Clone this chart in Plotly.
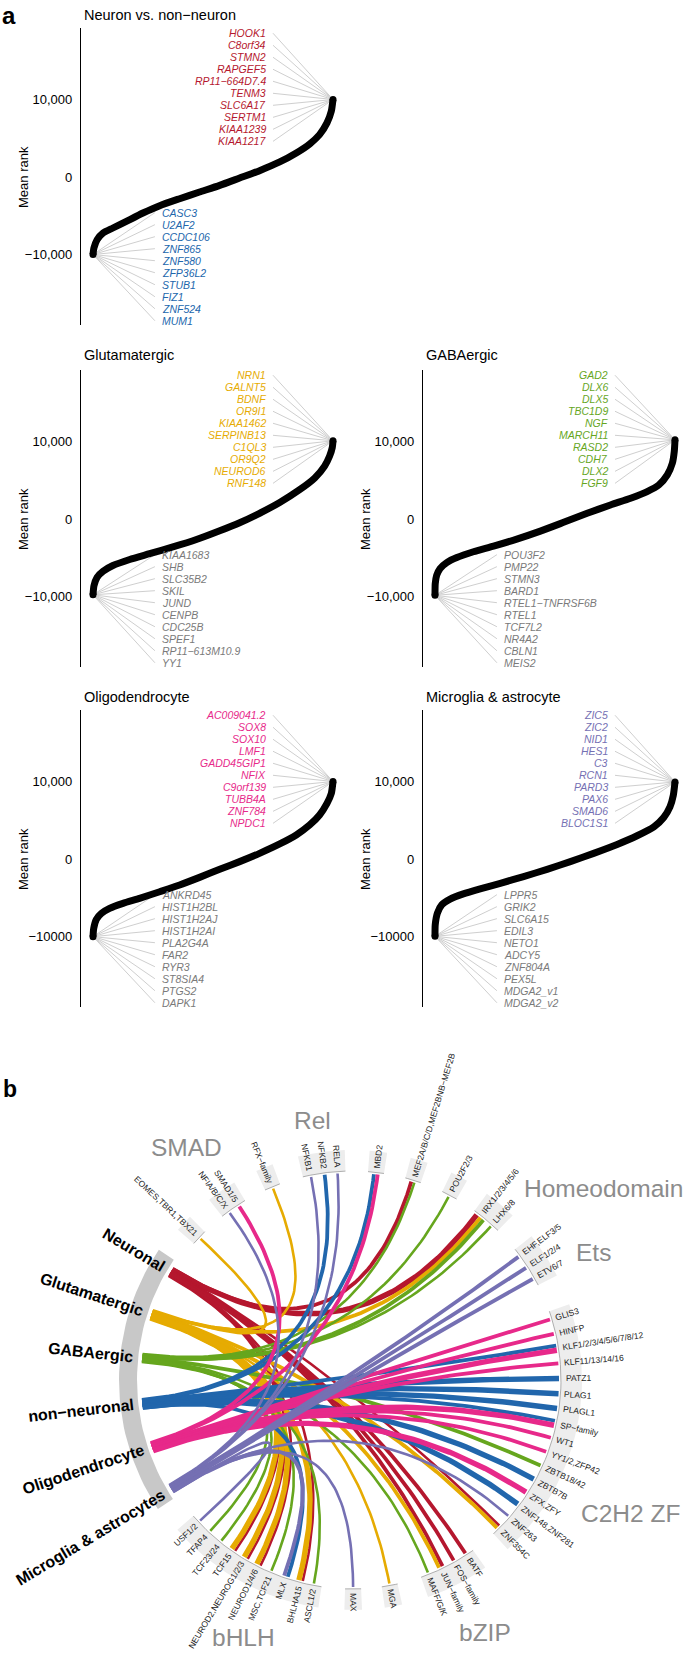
import math
import plotly.graph_objects as go

FONT = "Liberation Sans, Arial, Helvetica, sans-serif"
RED, ORANGE, GREEN = "#B5172E", "#E6AB02", "#66A61E"
BLUE, PINK, PURPLE = "#2166AC", "#E7298A", "#7570B3"
GREYTXT = "#7A7A7A"

# ---------------- Panel a data ----------------
titles = ["Neuron vs. non\u2212neuron", "Glutamatergic", "GABAergic",
          "Oligodendrocyte", "Microglia & astrocyte"]

# sorted mean-rank curves (x = rank fraction, y = mean rank)
neuron_x = [0, 0.004, 0.017, 0.042, 0.083, 0.139, 0.208, 0.278, 0.361, 0.444, 0.528, 0.611,
            0.694, 0.778, 0.847, 0.903, 0.944, 0.975, 0.993, 1.0]
neuron_y = [-10000, -9160, -8090, -7230, -6580, -5720, -4650, -3700, -2800, -1940, -1080, -130,
            820, 1940, 3100, 4270, 5470, 6980, 8490, 10000]
glut_x = [0, 0.004, 0.017, 0.042, 0.083, 0.153, 0.236, 0.333, 0.431, 0.528, 0.611, 0.694,
          0.778, 0.861, 0.924, 0.965, 0.986, 0.997, 1.0]
glut_y = [-9780, -8610, -7520, -6740, -6000, -5220, -4480, -3610, -2650, -1520, -480, 740,
          2130, 3780, 5300, 6830, 8130, 9220, 10090]
gaba_x = [0, 0.001, 0.007, 0.021, 0.049, 0.091, 0.160, 0.244, 0.341, 0.439, 0.536, 0.634,
          0.731, 0.815, 0.884, 0.933, 0.968, 0.989, 0.997, 1.0]
gaba_y = [-9850, -8340, -7260, -6390, -5620, -4970, -4230, -3500, -2590, -1560, -430, 730,
          1810, 2680, 3540, 4410, 5700, 7210, 8730, 10220]
oligo_x = [0, 0.003, 0.014, 0.035, 0.069, 0.125, 0.194, 0.278, 0.361, 0.444, 0.528, 0.611,
           0.694, 0.778, 0.847, 0.903, 0.944, 0.975, 0.993, 1.0]
oligo_y = [-10020, -8950, -7780, -7010, -6370, -5720, -5080, -4220, -3350, -2370, -1330, -340,
           730, 1940, 3100, 4390, 5680, 7180, 8470, 10000]
micro_x = [0, 0.001, 0.010, 0.028, 0.063, 0.118, 0.188, 0.272, 0.369, 0.467, 0.564, 0.661,
           0.759, 0.842, 0.912, 0.953, 0.979, 0.993, 1.0]
micro_y = [-9980, -8480, -6980, -5910, -5180, -4500, -3850, -3130, -2270, -1330, -340, 730,
           1880, 3000, 4150, 5350, 6720, 8220, 9940]
curves_x = [neuron_x, glut_x, gaba_x, oligo_x, micro_x]
curves_y = [neuron_y, glut_y, gaba_y, oligo_y, micro_y]

top_genes = [
    ["HOOK1", "C8orf34", "STMN2", "RAPGEF5", "RP11\u2212664D7.4", "TENM3", "SLC6A17", "SERTM1", "KIAA1239", "KIAA1217"],
    ["NRN1", "GALNT5", "BDNF", "OR9I1", "KIAA1462", "SERPINB13", "C1QL3", "OR9Q2", "NEUROD6", "RNF148"],
    ["GAD2", "DLX6", "DLX5", "TBC1D9", "NGF", "MARCH11", "RASD2", "CDH7", "DLX2", "FGF9"],
    ["AC009041.2", "SOX8", "SOX10", "LMF1", "GADD45GIP1", "NFIX", "C9orf139", "TUBB4A", "ZNF784", "NPDC1"],
    ["ZIC5", "ZIC2", "NID1", "HES1", "C3", "RCN1", "PARD3", "PAX6", "SMAD6", "BLOC1S1"],
]
bottom_genes = [
    ["CASC3", "U2AF2", "CCDC106", "ZNF865", "ZNF580", "ZFP36L2", "STUB1", "FIZ1", "ZNF524", "MUM1"],
    ["KIAA1683", "SHB", "SLC35B2", "SKIL", "JUND", "CENPB", "CDC25B", "SPEF1", "RP11\u2212613M10.9", "YY1"],
    ["POU3F2", "PMP22", "STMN3", "BARD1", "RTEL1\u2212TNFRSF6B", "RTEL1", "TCF7L2", "NR4A2", "CBLN1", "MEIS2"],
    ["ANKRD45", "HIST1H2BL", "HIST1H2AJ", "HIST1H2AI", "PLA2G4A", "FAR2", "RYR3", "ST8SIA4", "PTGS2", "DAPK1"],
    ["LPPR5", "GRIK2", "SLC6A15", "EDIL3", "NETO1", "ADCY5", "ZNF804A", "PEX5L", "MDGA2_v1", "MDGA2_v2"],
]
top_colors = [RED, ORANGE, GREEN, PINK, PURPLE]
bottom_colors = [BLUE, GREYTXT, GREYTXT, GREYTXT, GREYTXT]
tick_vals = [10000, 0, -10000]
tick_texts = [["10,000", "0", "\u221210,000"]] * 3 + [["10,000", "0", "\u221210000"]] * 2

# ---------------- Panel b data ----------------
sources = ["Neuronal", "Glutamatergic", "GABAergic", "non\u2212neuronal",
           "Oligodendrocyte", "Microglia & astrocytes"]
source_angle = [149.3, 161.8, 174.0, 186.5, 198.5, 211.0]
source_color = [RED, ORANGE, GREEN, BLUE, PINK, PURPLE]

targets = ["EOMES,TBR1,TBX21", "NFIA/B/C/X", "SMAD1/5", "RFX\u2212family", "NFKB1", "NFKB2", "RELA",
           "MBD2", "MEF2A/B/C/D,MEF2BNB\u2212MEF2B", "POU2F2/3", "IRX1/2/3/4/5/6", "LHX6/8",
           "EHF,ELF3/5", "ELF1/2/4", "ETV6/7", "GLIS3", "HINFP", "KLF1/2/3/4/5/6/7/8/12",
           "KLF11/13/14/16", "PATZ1", "PLAG1", "PLAGL1", "SP\u2212family", "WT1", "YY1/2,ZFP42",
           "ZBTB18/42", "ZBTB7B", "ZFX,ZFY", "ZNF148,ZNF281", "ZNF263", "ZNF354C", "BATF",
           "FOS\u2212family", "JUN\u2212family", "MAFF/G/K", "MGA", "MAX", "USF1/2", "TFAP4",
           "TCF23/24", "TCF15", "NEUROD2,NEUROG1/2/3", "NEUROD1/4/6", "MSC,TCF21", "MLX",
           "BHLHA15", "ASCL1/2"]
target_angle = [137.0, 126.2, 123.0, 112.4, 101.4, 97.6, 94.0, 83.4, 73.0, 62.2, 51.9, 47.9,
                36.5, 32.8, 29.2, 17.0, 12.9, 8.8, 4.6, 0.4, -3.8, -7.9, -12.1, -16.2, -20.3,
                -24.4, -28.6, -32.8, -36.8, -41.0, -45.2, -56.8, -60.6, -64.6, -68.5, -79.6,
                -89.7, 222.8, 226.8, 230.9, 234.9, 239.0, 243.0, 247.1, 251.4, 255.5, 259.4]
target_group = (["T-box", "SMAD", "SMAD", "RFX", "Rel", "Rel", "Rel", "MBD", "MEF2", "POU",
                 "Homeodomain", "Homeodomain", "Ets", "Ets", "Ets"] + ["C2H2 ZF"] * 16 +
                ["bZIP"] * 4 + ["MGA", "MAX"] + ["bHLH"] * 10)
family_labels = ["SMAD", "Rel", "Homeodomain", "Ets", "C2H2 ZF", "bHLH", "bZIP"]
family_label_xy = [(-166, 233), (-40, 260), (251, 192), (241, 128), (278, -133), (-109, -257), (133, -252)]

# links: (source index, target, score)
links = [
    (1, "EOMES,TBR1,TBX21", 1), (5, "NFIA/B/C/X", 1), (4, "SMAD1/5", 2), (1, "RFX\u2212family", 1),
    (5, "NFKB1", 1), (3, "NFKB2", 2), (5, "RELA", 1), (3, "MBD2", 2), (4, "MBD2", 2),
    (0, "MEF2A/B/C/D,MEF2BNB\u2212MEF2B", 2), (2, "MEF2A/B/C/D,MEF2BNB\u2212MEF2B", 1),
    (2, "POU2F2/3", 1), (0, "IRX1/2/3/4/5/6", 3), (1, "IRX1/2/3/4/5/6", 2), (2, "IRX1/2/3/4/5/6", 2),
    (2, "LHX6/8", 1), (5, "EHF,ELF3/5", 2), (5, "ELF1/2/4", 2), (5, "ETV6/7", 2),
    (4, "GLIS3", 2), (4, "HINFP", 2), (3, "KLF1/2/3/4/5/6/7/8/12", 2), (4, "KLF1/2/3/4/5/6/7/8/12", 3),
    (4, "KLF11/13/14/16", 2), (3, "PATZ1", 3), (3, "PLAG1", 3), (3, "PLAGL1", 3),
    (3, "SP\u2212family", 2), (4, "SP\u2212family", 3), (4, "WT1", 2), (4, "YY1/2,ZFP42", 2),
    (2, "ZBTB18/42", 2), (3, "ZBTB7B", 3), (4, "ZFX,ZFY", 3), (3, "ZNF148,ZNF281", 3),
    (5, "ZNF263", 1), (1, "ZNF354C", 2), (0, "ZNF354C", 1), (0, "BATF", 2), (0, "FOS\u2212family", 2),
    (1, "JUN\u2212family", 2), (0, "JUN\u2212family", 2), (2, "MAFF/G/K", 1), (1, "MGA", 1),
    (5, "MAX", 1), (5, "USF1/2", 1), (2, "TFAP4", 1), (2, "TCF23/24", 1),
    (1, "TCF15", 3), (0, "TCF15", 1), (1, "NEUROD2,NEUROG1/2/3", 3), (0, "NEUROD2,NEUROG1/2/3", 1),
    (1, "NEUROD1/4/6", 3), (0, "NEUROD1/4/6", 1), (2, "MSC,TCF21", 1),
    (5, "MLX", 2), (3, "MLX", 2), (1, "BHLHA15", 3), (0, "BHLHA15", 1), (2, "ASCL1/2", 1),
]

# ---------------- helpers ----------------
W, H = 685, 1653
REG = {' ': 278, ',': 278, '.': 278, '/': 278, '-': 333, '\u2212': 584, '&': 667, '_': 556,
       'A': 667, 'B': 667, 'C': 722, 'D': 722, 'E': 667, 'F': 611, 'G': 778, 'H': 722, 'I': 278,
       'J': 500, 'K': 667, 'L': 556, 'M': 833, 'N': 722, 'O': 778, 'P': 667, 'Q': 778, 'R': 722,
       'S': 667, 'T': 611, 'U': 722, 'V': 667, 'W': 944, 'X': 667, 'Y': 667, 'Z': 611,
       'a': 556, 'b': 556, 'c': 500, 'd': 556, 'e': 556, 'f': 278, 'g': 556, 'h': 556, 'i': 222,
       'j': 222, 'k': 500, 'l': 222, 'm': 833, 'n': 556, 'o': 556, 'p': 556, 'q': 556, 'r': 333,
       's': 500, 't': 278, 'u': 556, 'v': 500, 'w': 722, 'x': 500, 'y': 500, 'z': 500}
BOLD = dict(REG)
BOLD.update({'A': 722, 'B': 722, '&': 722, 'a': 556, 'b': 611, 'c': 556, 'd': 611, 'e': 556,
             'f': 333, 'g': 611, 'h': 611, 'i': 278, 'j': 278, 'k': 556, 'l': 278, 'm': 889,
             'n': 611, 'o': 611, 'p': 611, 'q': 611, 'r': 389, 's': 556, 't': 333, 'u': 611,
             'v': 556, 'w': 778, 'x': 556, 'y': 556})


def text_w(s, size, bold=False):
    tab = BOLD if bold else REG
    return sum(tab.get(ch, 556) for ch in s) * size / 1000.0


def pol(r, a):
    t = math.radians(a)
    return r * math.cos(t), r * math.sin(t)


def xd(px):
    return px / W


def yd(px):
    return 1 - px / H


fig = go.Figure()
annotations = []
layout = dict(width=W, height=H, margin=dict(l=0, r=0, t=0, b=0), paper_bgcolor="white",
              plot_bgcolor="rgba(0,0,0,0)", showlegend=False,
              font=dict(family=FONT, color="black"))

# ---------------- Panel a ----------------
axis_x_px = [81, 81, 423, 81, 423]
zero_px = [177, 519, 519, 859, 859]
title_y_px = [15, 355, 355, 697, 697]
YR = [-19050, 19200]
PPU = 77.5 / 10000.0
XR = [-12 / 240.0, 1 + 8 / 240.0]
TOP_X, TOP_LINE_X = 0.729, 0.75
BOT_X, BOT_LINE_X = 0.279, 0.258
top_label_y = [18550 - 1550 * i for i in range(10)]
bot_label_y = [-4600 - 1550 * i for i in range(10)]

for i in range(5):
    n = "" if i == 0 else str(i + 1)
    A = axis_x_px[i]
    top_px = zero_px[i] - YR[1] * PPU
    bot_px = zero_px[i] - YR[0] * PPU
    layout["xaxis" + n] = dict(domain=[xd(A), xd(A + 260)], range=XR, visible=False,
                               anchor="y" + n, fixedrange=True)
    layout["yaxis" + n] = dict(domain=[yd(bot_px), yd(top_px)], range=YR, anchor="x" + n,
                               showline=True, linecolor="black", linewidth=1.4, showgrid=False,
                               zeroline=False, ticks="outside", ticklen=5,
                               tickcolor="rgba(0,0,0,0)", tickvals=tick_vals,
                               ticktext=tick_texts[i], tickfont=dict(size=13, family=FONT),
                               fixedrange=True)
    xa, ya = "x" + n, "y" + n
    cx, cy = curves_x[i], curves_y[i]
    # connector lines
    lx, ly = [], []
    for yv in top_label_y:
        lx += [TOP_LINE_X, cx[-1], None]
        ly += [yv, cy[-1], None]
    for yv in bot_label_y:
        lx += [BOT_LINE_X, cx[0], None]
        ly += [yv, cy[0], None]
    fig.add_trace(go.Scatter(x=lx, y=ly, mode="lines", line=dict(color="#CFCFCF", width=1),
                             xaxis=xa, yaxis=ya, hoverinfo="skip"))
    fig.add_trace(go.Scatter(x=cx, y=cy, mode="lines",
                             line=dict(color="black", width=7, shape="spline", smoothing=0.6),
                             xaxis=xa, yaxis=ya, hoverinfo="skip"))
    fig.add_trace(go.Scatter(x=[cx[0], cx[-1]], y=[cy[0], cy[-1]], mode="markers",
                             marker=dict(color="black", size=7), xaxis=xa, yaxis=ya,
                             hoverinfo="skip"))
    for g, yv in zip(top_genes[i], top_label_y):
        annotations.append(dict(x=TOP_X, y=yv, xref=xa, yref=ya, text="<i>%s</i>" % g,
                                showarrow=False, xanchor="right", yanchor="middle",
                                font=dict(size=10.5, color=top_colors[i], family=FONT)))
    for g, yv in zip(bottom_genes[i], bot_label_y):
        annotations.append(dict(x=BOT_X, y=yv, xref=xa, yref=ya, text="<i>%s</i>" % g,
                                showarrow=False, xanchor="left", yanchor="middle",
                                font=dict(size=10.5, color=bottom_colors[i], family=FONT)))
    annotations.append(dict(x=xd(A + 1), y=yd(title_y_px[i]), xref="paper", yref="paper",
                            text=titles[i], showarrow=False, xanchor="left", yanchor="middle",
                            font=dict(size=14.5, family=FONT, color="black")))
    annotations.append(dict(x=xd(A - 58), y=yd(zero_px[i]), xref="paper", yref="paper",
                            text="Mean rank", showarrow=False, textangle=-90,
                            xanchor="center", yanchor="middle",
                            font=dict(size=13, family=FONT, color="black")))

annotations.append(dict(x=0, y=1, xref="paper", yref="paper", text="<b>a</b>",
                        showarrow=False, xanchor="left", yanchor="top",
                        font=dict(size=24, family=FONT, color="black")))
annotations.append(dict(x=xd(1), y=yd(1089), xref="paper", yref="paper", text="<b>b</b>",
                        showarrow=False, xanchor="left", yanchor="middle",
                        font=dict(size=23, family=FONT, color="black")))

# ---------------- Panel b ----------------
CX, CY = 352, 1380
layout["xaxis6"] = dict(domain=[0, 1], range=[-CX, W - CX], visible=False, anchor="y6",
                        fixedrange=True)
layout["yaxis6"] = dict(domain=[0, 1], range=[-(H - CY), CY], visible=False, anchor="x6",
                        fixedrange=True)


def add_poly(xs, ys, color, line_color=None, width=0):
    fig.add_trace(go.Scatter(x=xs, y=ys, mode="lines", fill="toself", fillcolor=color,
                             line=dict(color=line_color or color, width=width),
                             xaxis="x6", yaxis="y6", hoverinfo="skip"))


def sector(r0, r1, a0, a1, n=40):
    xs, ys = [], []
    for k in range(n + 1):
        x, y = pol(r1, a0 + (a1 - a0) * k / n)
        xs.append(x); ys.append(y)
    for k in range(n, -1, -1):
        x, y = pol(r0, a0 + (a1 - a0) * k / n)
        xs.append(x); ys.append(y)
    xs.append(xs[0]); ys.append(ys[0])
    return xs, ys


# target group boxes
tangle = dict(zip(targets, target_angle))
groups_order = []
for g in target_group:
    if g not in groups_order:
        groups_order.append(g)
for g in groups_order:
    angs = [a for a, gg in zip(target_angle, target_group) if gg == g]
    a0, a1 = min(angs) - 2.2, max(angs) + 2.2
    xs, ys = sector(209, 230, a0, a1)
    add_poly(xs, ys, "#EDEDED")
    ax_, ay_ = [], []
    for k in range(41):
        x, y = pol(209, a0 + (a1 - a0) * k / 40)
        ax_.append(x); ay_.append(y)
    fig.add_trace(go.Scatter(x=ax_, y=ay_, mode="lines", line=dict(color="#9A9A9A", width=0.8),
                             xaxis="x6", yaxis="y6", hoverinfo="skip"))

# source band
xs, ys = sector(215, 233, 146.0, 213.6)
add_poly(xs, ys, "#C8C8C8")

WIDTH = {1: 2.6, 2: 3.8, 3: 5.4}

# source-side offsets
src_off = {}
for s in range(len(sources)):
    ls = [k for k, l in enumerate(links) if l[0] == s]
    ls.sort(key=lambda k: (source_angle[s] - tangle[links[k][1]]) % 360)
    nL = len(ls)
    for j, k in enumerate(ls):
        px = (j - (nL - 1) / 2.0) * 0.9
        src_off[k] = math.degrees(px / 211.0)

# target-side offsets
tgt_off = {}
for t in targets:
    ls = [k for k, l in enumerate(links) if l[1] == t]
    ls.sort(key=lambda k: (source_angle[links[k][0]] - tangle[t]) % 360)
    ws = [WIDTH[links[k][2]] for k in ls]
    tot = sum(ws)
    cum = 0
    for k, w in zip(ls, ws):
        centre = cum + w / 2.0 - tot / 2.0
        cum += w
        tgt_off[k] = -math.degrees(centre / 207.0)

# draw links grouped by source order
for s in range(len(sources)):
    for k, (si, t, sc) in enumerate(links):
        if si != s:
            continue
        p0 = pol(211, source_angle[si] + src_off[k])
        p2 = pol(207, tangle[t] + tgt_off[k])
        bx, by = [], []
        for q in range(61):
            u = q / 60.0
            bx.append((1 - u) ** 2 * p0[0] + u * u * p2[0])
            by.append((1 - u) ** 2 * p0[1] + u * u * p2[1])
        fig.add_trace(go.Scatter(x=bx, y=by, mode="lines",
                                 line=dict(color=source_color[si], width=WIDTH[sc]),
                                 xaxis="x6", yaxis="y6", hoverinfo="skip"))

# target labels
for t, a in zip(targets, target_angle):
    w = text_w(t, 8.5)
    x, y = pol(213 + w / 2.0, a)
    if math.cos(math.radians(a)) >= -1e-9:
        rot = -a
    else:
        rot = 180 - a
    annotations.append(dict(x=x, y=y, xref="x6", yref="y6", text=t, showarrow=False,
                            textangle=rot, xanchor="center", yanchor="middle",
                            font=dict(size=8.5, family=FONT, color="#1A1A1A")))

# source labels
for s, a in zip(sources, source_angle):
    w = text_w(s, 16, bold=True)
    x, y = pol(220 + w / 2.0, a)
    annotations.append(dict(x=x, y=y, xref="x6", yref="y6", text="<b>%s</b>" % s,
                            showarrow=False, textangle=180 - a, xanchor="center",
                            yanchor="middle", font=dict(size=16, family=FONT, color="black")))

# family labels
for lab, (x, y) in zip(family_labels, family_label_xy):
    annotations.append(dict(x=x, y=y, xref="x6", yref="y6", text=lab, showarrow=False,
                            xanchor="center", yanchor="middle",
                            font=dict(size=24.5, family=FONT, color="#8C8C8C")))

layout["annotations"] = annotations
fig.update_layout(**layout)
fig.write_html("out.html")
